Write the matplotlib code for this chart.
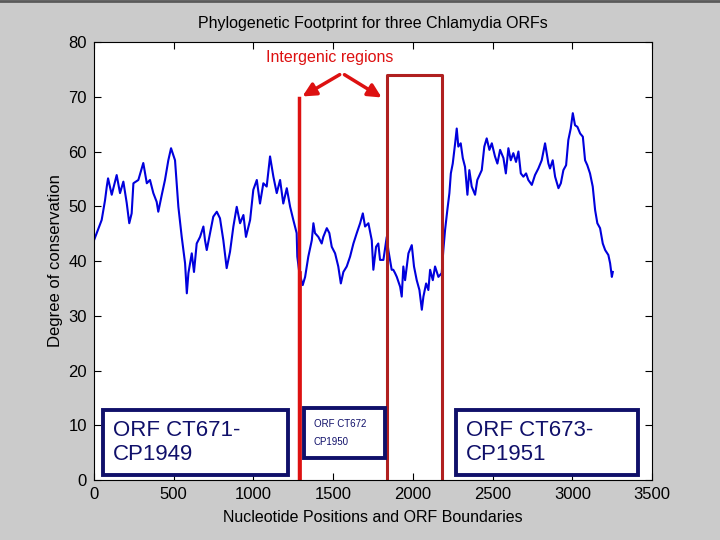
import numpy as np
import matplotlib
matplotlib.use("Agg")
import matplotlib.pyplot as plt
from matplotlib.patches import Rectangle
from matplotlib.lines import Line2D

# conservation profile (nucleotide position, degree)
pos = [0, 17, 48, 69, 80, 88, 111, 142, 163, 184, 205, 221, 236, 247, 278, 309, 331, 351, 372, 393,
       403, 425, 445, 466, 483, 508, 529, 550, 571, 582, 592, 613, 627, 644, 665, 686, 696, 707, 728, 748,
       770, 790, 811, 832, 853, 874, 895, 916, 937, 953, 979, 999, 1021, 1041, 1062, 1083, 1104, 1125, 1146, 1167,
       1187, 1209, 1230, 1250, 1271, 1275, 1288, 1309, 1324, 1344, 1366, 1376, 1386, 1407, 1428, 1438, 1460, 1476, 1491, 1512,
       1532, 1548, 1564, 1585, 1606, 1627, 1648, 1669, 1686, 1700, 1721, 1742, 1752, 1769, 1783, 1794, 1815, 1836, 1846, 1867,
       1877, 1888, 1899, 1920, 1930, 1940, 1951, 1972, 1993, 2007, 2024, 2041, 2056, 2066, 2083, 2097, 2108, 2125, 2139, 2160,
       2181, 2191, 2202, 2216, 2229, 2238, 2250, 2265, 2275, 2285, 2300, 2313, 2327, 2342, 2354, 2369, 2390, 2404, 2432, 2448,
       2463, 2480, 2495, 2515, 2530, 2547, 2568, 2583, 2599, 2614, 2630, 2647, 2662, 2677, 2693, 2710, 2724, 2746, 2766, 2787,
       2808, 2829, 2850, 2860, 2877, 2892, 2913, 2928, 2944, 2961, 2975, 2990, 3003, 3017, 3032, 3049, 3066, 3080, 3094, 3111,
       3128, 3143, 3157, 3174, 3191, 3206, 3226, 3237, 3248, 3254]
cons = [43.8, 45.1, 47.5, 51.1, 53.6, 55.1, 52.1, 55.7, 52.4, 54.5, 50.6, 46.9, 48.7, 54.2, 54.8, 57.9, 54.2, 54.8, 52.4, 50.8,
        49.0, 52.1, 54.8, 58.4, 60.6, 58.4, 49.9, 44.4, 39.6, 34.1, 37.8, 41.4, 38.0, 43.2, 44.4, 46.3, 43.8, 42.0, 45.1, 48.1,
        49.0, 47.8, 43.8, 38.7, 41.7, 46.3, 49.9, 46.9, 48.4, 44.4, 47.5, 53.0, 54.8, 50.5, 54.2, 53.6, 59.1, 55.4, 52.4, 54.8,
        50.5, 53.3, 49.9, 47.5, 45.1, 40.8, 37.8, 35.6, 37.1, 40.8, 43.8, 46.9, 45.1, 44.4, 43.2, 44.4, 46.0, 45.1, 42.6, 41.4,
        39.0, 35.9, 38.0, 39.0, 40.8, 43.2, 45.1, 46.9, 48.7, 46.3, 46.9, 43.8, 38.4, 42.6, 43.2, 40.2, 40.2, 44.4, 42.0, 38.4,
        38.4, 37.8, 37.1, 35.3, 33.5, 39.0, 36.5, 41.4, 42.9, 39.0, 36.5, 34.7, 31.1, 33.5, 35.9, 34.7, 38.4, 36.5, 39.0, 37.1,
        37.8, 42.0, 45.7, 49.3, 52.4, 56.0, 57.8, 61.5, 64.2, 60.9, 61.5, 58.8, 57.2, 52.1, 56.6, 53.6, 52.1, 54.8, 56.6, 60.9,
        62.4, 60.3, 61.5, 59.1, 57.8, 60.3, 58.8, 56.0, 60.6, 58.4, 59.7, 58.1, 60.0, 56.0, 55.4, 56.0, 54.8, 53.9, 55.7, 56.9,
        58.4, 61.5, 57.8, 56.9, 58.4, 55.4, 53.3, 54.2, 56.6, 57.5, 62.1, 64.2, 67.0, 64.8, 64.5, 63.3, 62.7, 58.4, 57.5, 56.0,
        53.6, 49.3, 46.9, 46.0, 43.2, 42.0, 41.1, 39.6, 37.1, 38.0]

# ORF boxes
orf_x0 = [56, 1317, 2271]
orf_x1 = [1217, 1826, 3413]
orf_y0 = [0.9, 4.0, 0.9]
orf_y1 = [12.8, 13.2, 12.8]
orf_labels = ["ORF CT671-\nCP1949", "ORF CT672\nCP1950", "ORF CT673-\nCP1951"]
orf_sizes = [16, 7, 16]

# intergenic boundaries
left_line = 1286
left_line2 = 1300
ig_box = [1838, 2183]
ig_top = 74.0

plt.rcParams['font.family'] = ['Liberation Sans', 'DejaVu Sans']

fig = plt.figure(figsize=(7.2, 5.4), dpi=100)
fig.patch.set_facecolor('#cbcbcb')
ax = fig.add_axes([0.1306, 0.1111, 0.7750, 0.8111])

ax.plot(pos, cons, color='#0000dd', lw=1.5)

red = '#dd1111'
dred = '#b02020'
ax.plot([left_line, left_line], [0, 69.8], color=red, lw=2.5)
ax.plot([left_line2, left_line2], [0, 38], color=red, lw=1.2)
ax.plot([ig_box[0], ig_box[0], ig_box[1], ig_box[1]], [0, ig_top, ig_top, 0], color=dred, lw=2.2)

ax.text(1481, 77.1, "Intergenic regions", color=red, fontsize=11.5, ha='center', va='center')
for tip in [(1292, 69.8), (1819, 69.6)]:
    ax.annotate("", xy=tip, xytext=(1556, 74.3),
                arrowprops=dict(arrowstyle='-|>', color=red, lw=2.5, mutation_scale=20))

navy = '#10106a'
for x0, x1, y0, y1, lab, fs in zip(orf_x0, orf_x1, orf_y0, orf_y1, orf_labels, orf_sizes):
    ax.add_patch(Rectangle((x0, y0), x1 - x0, y1 - y0, fill=True, facecolor='white',
                           edgecolor=navy, lw=2.8, zorder=3))
    ls = 2.0 if fs < 10 else 1.2
    ax.text(x0 + 60, (y0 + y1) / 2, lab, color=navy, fontsize=fs, ha='left', va='center',
            linespacing=ls, zorder=4)

ax.set_xlim(0, 3500)
ax.set_ylim(0, 80)
ax.set_xticks(np.arange(0, 3501, 500))
ax.set_yticks(np.arange(0, 81, 10))
ax.tick_params(direction='in', top=True, right=True, length=5, labelsize=12, pad=5)
ax.set_title("Phylogenetic Footprint for three Chlamydia ORFs", fontsize=11.5, pad=10)
ax.set_xlabel("Nucleotide Positions and ORF Boundaries", fontsize=11.5, labelpad=6)
ax.set_ylabel("Degree of conservation", fontsize=12, labelpad=4)

fig.add_artist(Line2D([0, 1], [0.998, 0.998], color='#5a5a5a', lw=2, transform=fig.transFigure))

fig.savefig("out.png", dpi=100, facecolor=fig.get_facecolor())
